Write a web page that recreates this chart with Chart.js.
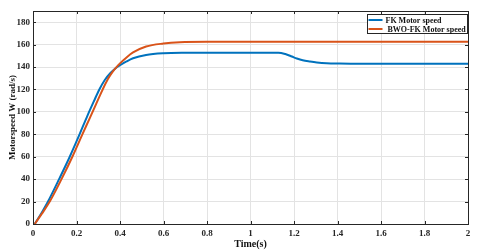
<!DOCTYPE html>
<html>
<head>
<meta charset="utf-8">
<script src="https://cdn.jsdelivr.net/npm/chart.js@4/dist/chart.umd.min.js"></script>
<style>
html,body{margin:0;padding:0;background:#fff;}
canvas{display:block;}
</style>
</head>
<body>
<canvas id="c" width="480" height="252"></canvas>
<script>
// ---- data ----
const seriesNames = ["FK Motor speed", " BWO-FK Motor speed"];
const timeFK  = [0.008, 0.04, 0.069, 0.12, 0.169, 0.212, 0.25, 0.28,  0.305, 0.33,  0.355, 0.38, 0.40,  0.43, 0.46,  0.52,  0.60,  0.70,  0.90,  1.128, 1.16,  1.19,  1.213, 1.24, 1.274, 1.305, 1.35,  1.41,  1.50,  2.00];
const speedFK = [0,     10,   20,    40,   60,    79,    96.5, 109.5, 120,   128.5, 134.5, 139,  141.6, 145,  147.8, 150.8, 152.3, 152.7, 152.8, 152.8, 151.6, 149.4, 147.6, 146,  144.9, 144.1, 143.4, 143.1, 142.9, 142.9];
const timeBWO  = [0.008, 0.04, 0.077, 0.131, 0.181, 0.227, 0.26, 0.29, 0.318, 0.345, 0.365, 0.384, 0.40,  0.43,  0.46, 0.52,  0.60, 0.675, 0.80,  1.00,  2.00];
const speedBWO = [0,     9,    20,    40,    60,    80,    94,   107,  119,   129.5, 135.5, 140,   143.3, 148.6, 153,  158.3, 161,  162.2, 162.6, 162.6, 162.6];
const xTickValues = [0, 0.2, 0.4, 0.6, 0.8, 1, 1.2, 1.4, 1.6, 1.8, 2];
const yTickValues = [0, 20, 40, 60, 80, 100, 120, 140, 160, 180];
const colors = ["#0072BD", "#D95319"];

const toPts = (ts, vs) => ts.map((t, i) => ({x: t, y: vs[i]}));

const SERIF = "'Liberation Serif', 'Times New Roman', serif";

const framePlugin = {
  id: 'frame',
  afterDatasetsDraw(chart) {
    const {ctx, chartArea: a, scales} = chart;
    ctx.save();
    ctx.strokeStyle = '#262626';
    ctx.lineWidth = 1;
    // inward ticks
    const L = 3;
    ctx.beginPath();
    xTickValues.forEach(v => {
      const px = Math.round(scales.x.getPixelForValue(v)) + 0.5;
      ctx.moveTo(px, a.bottom); ctx.lineTo(px, a.bottom - L);
      ctx.moveTo(px, a.top); ctx.lineTo(px, a.top + L);
    });
    yTickValues.forEach(v => {
      const py = Math.round(scales.y.getPixelForValue(v)) + 0.5;
      ctx.moveTo(a.left, py); ctx.lineTo(a.left + L, py);
      ctx.moveTo(a.right, py); ctx.lineTo(a.right - L, py);
    });
    ctx.stroke();
    ctx.strokeRect(Math.round(a.left) + 0.5, Math.round(a.top) + 0.5, Math.round(a.right - a.left), Math.round(a.bottom - a.top));
    // legend
    const bw = 100, bh = 19;
    const bx = Math.round(a.right) - bw - 1 + 0.5, by = Math.round(a.top) + 3 + 0.5;
    ctx.fillStyle = '#fff';
    ctx.fillRect(bx, by, bw, bh);
    ctx.strokeStyle = '#262626';
    ctx.strokeRect(bx, by, bw, bh);
    ctx.font = "bold 8px " + SERIF;
    ctx.textBaseline = 'middle';
    chart.data.datasets.slice().sort((p, q) => p.legendIndex - q.legendIndex).forEach((ds, i) => {
      const y = by + 5.5 + i * 9;
      ctx.strokeStyle = ds.borderColor;
      ctx.lineWidth = 2;
      ctx.beginPath();
      ctx.moveTo(bx + 1, y); ctx.lineTo(bx + 15, y);
      ctx.stroke();
      ctx.fillStyle = '#111';
      ctx.fillText(ds.label, bx + 18, y + 0.5);
    });
    ctx.restore();
  }
};

new Chart(document.getElementById('c'), {
  type: 'line',
  data: {
    datasets: [
      {label: seriesNames[0], legendIndex: 0, data: toPts(timeFK, speedFK), borderColor: colors[0], backgroundColor: colors[0], borderWidth: 2, pointRadius: 0, cubicInterpolationMode: 'monotone', order: 1},
      {label: seriesNames[1], legendIndex: 1, data: toPts(timeBWO, speedBWO), borderColor: colors[1], backgroundColor: colors[1], borderWidth: 2, pointRadius: 0, cubicInterpolationMode: 'monotone', order: 0}
    ]
  },
  options: {
    responsive: false,
    animation: false,
    devicePixelRatio: 1,
    layout: {padding: {top: 11, right: 12, left: 0, bottom: 0}},
    plugins: {legend: {display: false}, tooltip: {enabled: false}},
    scales: {
      x: {
        type: 'linear', min: 0, max: 2,
        afterBuildTicks: s => { s.ticks = xTickValues.map(v => ({value: v})); },
        afterFit: s => { s.height = 28; },
        grid: {color: '#e3e3e3', drawTicks: false},
        border: {display: false},
        ticks: {padding: 4, color: '#262626', font: {family: SERIF, size: 9, weight: 'bold'}, maxRotation: 0, autoSkip: false,
                callback: v => String(Math.round(v * 10) / 10)},
        title: {display: true, text: 'Time(s)', color: '#111', font: {family: SERIF, size: 10, weight: 'bold'}, padding: {top: 0, bottom: 2}}
      },
      y: {
        type: 'linear', min: 0, max: 190,
        afterBuildTicks: s => { s.ticks = yTickValues.map(v => ({value: v})); },
        afterFit: s => { s.width = 33; },
        grid: {color: '#e3e3e3', drawTicks: false},
        border: {display: false},
        ticks: {padding: 3, color: '#262626', font: {family: SERIF, size: 9, weight: 'bold'}, autoSkip: false},
        title: {display: true, text: 'Motorspeed W (rad/s)', color: '#111', font: {family: SERIF, size: 9, weight: 'bold'}, padding: {top: 7, bottom: 0}}
      }
    }
  },
  plugins: [framePlugin]
});
</script>
</body>
</html>
